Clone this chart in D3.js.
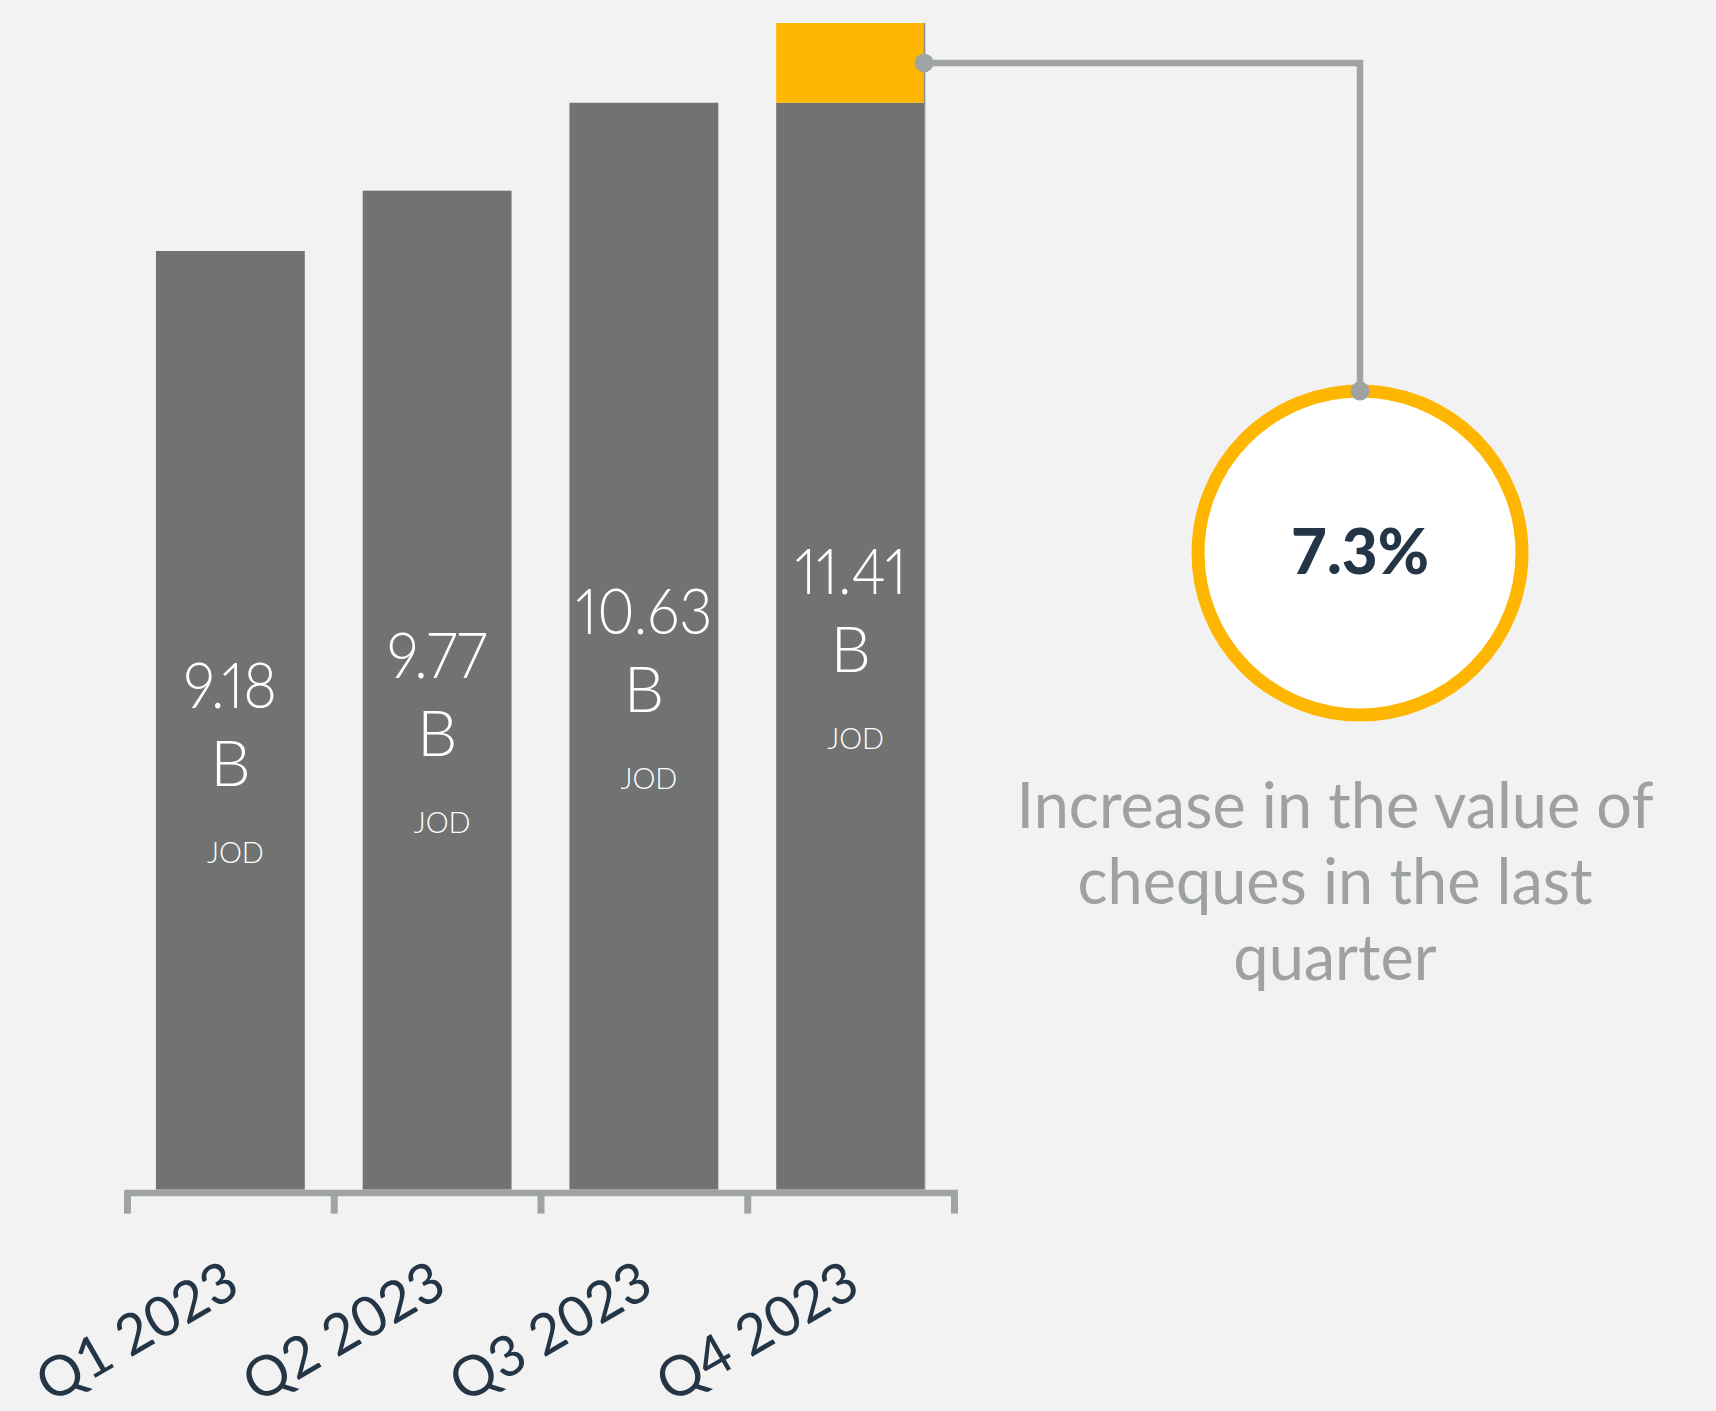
<!DOCTYPE html>
<html>
<head>
<meta charset="utf-8">
<script src="https://cdn.jsdelivr.net/npm/d3@7"></script>
<style>
  html, body { margin: 0; padding: 0; background: #f2f2f2; }
  svg { display: block; }
</style>
</head>
<body>
<div id="chart"></div>
<script>
// ---- data ----
const categories = ["Q1 2023", "Q2 2023", "Q3 2023", "Q4 2023"];
const values = [9.18, 9.77, 10.63, 11.41];           // billions JOD
const valueLabels = ["9.18", "9.77", "10.63", "11.41"];
const unitLabel = "B";
const currencyLabel = "JOD";
const descriptionLines = ["Increase in the value of", "cheques in the last", "quarter"];

// ---- layout ----
const W = 1716, H = 1411;
const colors = { bg: "#f2f2f2", bar: "#717372", inc: "#ffb600", line: "#9fa3a3", navy: "#243646", desc: "#9da1a1" };

const svg = d3.select("#chart").append("svg").attr("width", W).attr("height", H);
svg.append("rect").attr("width", W).attr("height", H).attr("fill", colors.bg);

const x0 = 127, x1 = 954, yBase = 1189.6, yTop = 23;
const x = d3.scaleBand().domain(categories).range([x0, x1]).paddingInner(0.28).paddingOuter(0.14);
const y = d3.scaleLinear().domain([0, d3.max(values)]).range([yBase, yTop]);
const xEdge = d3.scaleLinear().domain([0, categories.length]).range([x0, x1]);

const n = values.length;
const prev = values[n - 2], last = values[n - 1];

// bars (last bar gray up to previous value)
svg.append("g").selectAll("rect").data(values).join("rect")
  .attr("x", (d, i) => x(categories[i]))
  .attr("width", x.bandwidth())
  .attr("y", (d, i) => i === n - 1 ? y(prev) : y(d))
  .attr("height", (d, i) => yBase - (i === n - 1 ? y(prev) : y(d)))
  .attr("fill", colors.bar);

// increase segment
svg.append("rect")
  .attr("x", x(categories[n - 1]))
  .attr("width", x.bandwidth())
  .attr("y", y(last))
  .attr("height", y(prev) - y(last))
  .attr("fill", colors.inc);
svg.append("line")
  .attr("x1", x(categories[n - 1]) + x.bandwidth() - 0.5).attr("x2", x(categories[n - 1]) + x.bandwidth() - 0.5)
  .attr("y1", y(last)).attr("y2", yBase)
  .attr("stroke", "#8d8f8f").attr("stroke-width", 1.5);

// axis
const axis = d3.axisBottom(xEdge).tickValues(d3.range(n + 1)).tickFormat("").tickSize(21).tickSizeOuter(0);
const ax = svg.append("g").attr("transform", `translate(0,${yBase + 3})`).call(axis);
ax.select(".domain").attr("stroke", colors.line).attr("stroke-width", 6.5).attr("stroke-linecap", "square");
ax.selectAll(".tick line").attr("stroke", colors.line).attr("stroke-width", 7);

// category labels
svg.append("g").selectAll("text").data(categories).join("text")
  .attr("transform", d => `translate(${x(d) + x.bandwidth() / 2 + 12},1293) rotate(-30)`)
  .attr("text-anchor", "end")
  .attr("font-family", "Lato, sans-serif")
  .attr("font-size", 56)
  .attr("font-weight", 400)
  .attr("fill", colors.navy)
  .text(d => d);

// bar value labels
const lab = svg.append("g").selectAll("g").data(values).join("g")
  .attr("transform", (d, i) => `translate(${x(categories[i]) + x.bandwidth() / 2},${(y(d) + yBase) / 2})`);
lab.append("text")
  .attr("transform", "translate(0,-12.5) scale(0.9,1)").attr("text-anchor", "middle")
  .attr("font-family", "Lato, sans-serif").attr("font-size", 64).attr("font-weight", 300)
  .style("font-variant-numeric", "proportional-nums")
  .attr("fill", "#fff").text((d, i) => valueLabels[i]);
lab.append("text")
  .attr("y", 66).attr("text-anchor", "middle")
  .attr("font-family", "Lato, sans-serif").attr("font-size", 64).attr("font-weight", 300)
  .attr("fill", "#fff").text(unitLabel);
lab.append("text")
  .attr("x", 5).attr("y", 143).attr("text-anchor", "middle")
  .attr("font-family", "Lato, sans-serif").attr("font-size", 29).attr("font-weight", 300)
  .attr("fill", "#fff").text(currencyLabel);

// connector + circle
const cx = 1360, cy = 553, r = 162;
const dotX = x(categories[n - 1]) + x.bandwidth() - 1, dotY = (y(last) + y(prev)) / 2;
svg.append("path")
  .attr("d", `M${dotX},${dotY}H${cx}V${cy - r}`)
  .attr("fill", "none").attr("stroke", colors.line).attr("stroke-width", 6.5);
svg.append("circle").attr("cx", cx).attr("cy", cy).attr("r", r)
  .attr("fill", "#fff").attr("stroke", colors.inc).attr("stroke-width", 13);
svg.append("circle").attr("cx", dotX).attr("cy", dotY).attr("r", 9.5).attr("fill", colors.line);
svg.append("circle").attr("cx", cx).attr("cy", cy - r).attr("r", 9.5).attr("fill", colors.line);

svg.append("text")
  .attr("x", cx).attr("y", 574).attr("text-anchor", "middle")
  .attr("font-family", "Lato, sans-serif").attr("font-size", 62).attr("font-weight", 900)
  .attr("fill", colors.navy)
  .text(d3.format(".1%")((last - prev) / prev));

// description
svg.append("g").selectAll("text").data(descriptionLines).join("text")
  .attr("x", 1335).attr("y", (d, i) => 828 + i * 76)
  .attr("text-anchor", "middle")
  .attr("font-family", "Lato, sans-serif").attr("font-size", 63).attr("font-weight", 400)
  .attr("fill", colors.desc)
  .text(d => d);
</script>
</body>
</html>
